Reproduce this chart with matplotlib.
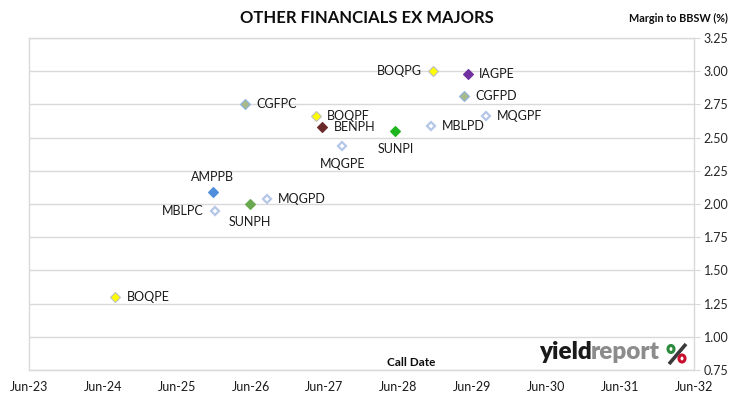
import pandas as pd
import matplotlib
matplotlib.use('Agg')
import matplotlib.pyplot as plt
import matplotlib.dates as mdates
from matplotlib.patches import Ellipse
from matplotlib.lines import Line2D
from matplotlib.ticker import MultipleLocator, FormatStrFormatter

plt.rcParams['font.family'] = ['Lato', 'DejaVu Sans']

# 발행물 이름, 콜 날짜, BBSW 대비 마진
names = ['BOQPE', 'AMPPB', 'MBLPC', 'SUNPH', 'MQGPD', 'CGFPC', 'BOQPF', 'BENPH',
         'MQGPE', 'SUNPI', 'BOQPG', 'MBLPD', 'IAGPE', 'CGFPD', 'MQGPF']
call_dates = ['2024-08-30', '2025-12-24', '2026-01-04', '2026-06-26', '2026-09-18',
              '2026-06-04', '2027-05-18', '2027-06-20', '2027-09-26', '2028-06-15',
              '2028-12-16', '2028-12-08', '2029-06-08', '2029-05-20', '2029-09-04']
margins = [1.30, 2.09, 1.95, 2.00, 2.04, 2.75, 2.66, 2.58,
           2.44, 2.55, 3.00, 2.59, 2.98, 2.81, 2.66]
label_pos = ['right', 'above', 'left', 'below', 'right', 'right', 'right', 'right',
             'below', 'below', 'left', 'right', 'right', 'right', 'right']

face_cols = ['#ffff00', '#4f8fdc', 'white', '#6aa84f', 'white', '#a9b98a', '#ffff00', '#6b2a2a',
             'white', '#1fb51f', '#ffff00', 'white', '#7030a0', '#a9b98a', 'white']
edge_cols = ['#bfbfbf', '#4f8fdc', '#b4c7e7', '#6aa84f', '#b4c7e7', '#8eb4e3', '#bfbfbf', '#6b2a2a',
             '#b4c7e7', '#1fb51f', '#bfbfbf', '#b4c7e7', '#7030a0', '#8eb4e3', '#b4c7e7']

x_ticks = [pd.Timestamp(f'{y}-06-30') for y in range(2023, 2033)]

dates = pd.to_datetime(call_dates)

fig = plt.figure(figsize=(7.30, 3.99), dpi=100)
ax = fig.add_axes([29 / 730, 1 - 370 / 399, 665 / 730, 332 / 399])

grid_col = '#d9d9d9'
for i in range(len(names)):
    hollow = face_cols[i] == 'white'
    ax.plot(dates[i], margins[i], marker='D', markersize=4.3 if hollow else 4.6,
            markerfacecolor=face_cols[i], markeredgecolor=edge_cols[i],
            markeredgewidth=1.6 if hollow else 0.8, linestyle='none', zorder=3)
    pos = label_pos[i]
    if pos == 'right':
        off, ha, va = (8, 0), 'left', 'center'
    elif pos == 'left':
        off, ha, va = (-8, 0), 'right', 'center'
    elif pos == 'above':
        off, ha, va = (0, 11), 'center', 'center'
    else:
        off, ha, va = (0, -13), 'center', 'center'
    ax.annotate(names[i], (dates[i], margins[i]), xytext=off, textcoords='offset points',
                ha=ha, va=va, fontsize=9, color='#1a1a1a', zorder=4)

ax.set_xlim(x_ticks[0], x_ticks[-1])
ax.set_xticks(x_ticks)
ax.xaxis.set_major_formatter(mdates.DateFormatter('%b-%y'))
ax.set_ylim(0.75, 3.25)
ax.yaxis.set_major_locator(MultipleLocator(0.25))
ax.yaxis.set_major_formatter(FormatStrFormatter('%.2f'))
ax.yaxis.tick_right()
ax.yaxis.grid(True, color=grid_col, linewidth=1.0)
ax.set_axisbelow(True)

for s in ['left', 'right', 'bottom', 'top']:
    ax.spines[s].set_color(grid_col)
    ax.spines[s].set_linewidth(1.0)
ax.tick_params(axis='y', direction='out', length=4, color=grid_col, labelsize=9,
               labelcolor='#262626', pad=3)
ax.tick_params(axis='x', length=0, labelsize=9, labelcolor='#1a1a1a', pad=8)

fig.text(367 / 730, 1 - 18 / 399, 'OTHER FINANCIALS EX MAJORS', ha='center', va='center',
         fontsize=12, fontweight='bold', color='#0d0d0d')
fig.text(678 / 730, 1 - 18 / 399, 'Margin to BBSW (%)', ha='center', va='center',
         fontsize=7.8, fontweight='bold', color='#0d0d0d')
fig.text(411 / 730, 1 - 363 / 399, 'Call Date', ha='center', va='center',
         fontsize=8.5, fontweight='bold', color='#0d0d0d')

# 로고
fig.text(539 / 730, 1 - 359 / 399, 'yield', ha='left', va='baseline', fontsize=17.5,
         fontweight='heavy', color='#1a1a1a')
fig.text(591 / 730, 1 - 359 / 399, 'report', ha='left', va='baseline', fontsize=17.5,
         fontweight='heavy', color='#8c8c8c')
fig.add_artist(Line2D([686 / 730, 669 / 730], [1 - 344 / 399, 1 - 364 / 399],
                      transform=fig.transFigure, color='#3a3a3a', linewidth=2.6,
                      solid_capstyle='butt'))
fig.add_artist(Ellipse((671 / 730, 1 - 349 / 399), 6 / 730, 7 / 399, transform=fig.transFigure,
                       fill=False, edgecolor='#2e8b3e', linewidth=2.2, zorder=5))
fig.add_artist(Ellipse((682 / 730, 1 - 358.5 / 399), 6 / 730, 7 / 399, transform=fig.transFigure,
                       fill=False, edgecolor='#c8102e', linewidth=2.2, zorder=5))

fig.savefig('out.png', dpi=100)
